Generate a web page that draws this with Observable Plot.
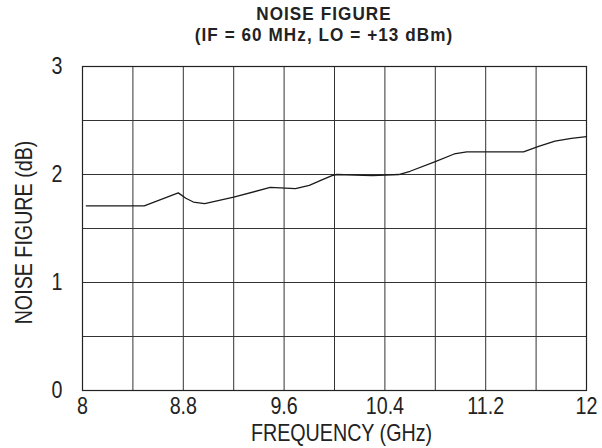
<!DOCTYPE html>
<html>
<head>
<meta charset="utf-8">
<script src="https://cdn.jsdelivr.net/npm/d3@7"></script>
<script src="https://cdn.jsdelivr.net/npm/@observablehq/plot@0.6"></script>
<style>
  html, body { margin: 0; padding: 0; background: #fff; }
  #wrap { width: 602px; height: 448px; overflow: hidden; background: #fff; position: relative; }
  #title {
    box-sizing: border-box; width: 602px; height: 48px;
    padding-top: 3px;
    text-align: center;
    font-family: "Liberation Sans", Arial, sans-serif;
    font-weight: bold; font-size: 19px; line-height: 21px; letter-spacing: 1.2px;
    color: #222;
    transform: translateX(23px) scaleX(0.9);
    transform-origin: 301px 0;
  }
  svg { display: block; }
</style>
</head>
<body>
<div id="wrap">
  <div id="title">NOISE FIGURE<br>(IF = 60 MHz, LO = +13 dBm)</div>
  <div id="chart"></div>
</div>
<script>
// Data
const freqGHz = [8.03, 8.49, 8.76, 8.82, 8.88, 8.97, 9.2, 9.49, 9.69, 9.8, 9.9, 9.98, 10.02, 10.3, 10.51, 10.6, 10.8, 10.95, 11.05, 11.5, 11.62, 11.75, 11.88, 12.0];
const noiseDb = [1.71, 1.71, 1.83, 1.78, 1.745, 1.73, 1.79, 1.88, 1.87, 1.90, 1.95, 1.99, 2.00, 1.99, 2.00, 2.03, 2.12, 2.19, 2.21, 2.21, 2.26, 2.31, 2.335, 2.35];
const xTickValues = [8, 8.8, 9.6, 10.4, 11.2, 12];
const yTickValues = [0, 1, 2, 3];
const xGridValues = [8.4, 8.8, 9.2, 9.6, 10.0, 10.4, 10.8, 11.2, 11.6];
const yGridValues = [0.5, 1, 1.5, 2, 2.5];
const xLabel = "FREQUENCY (GHz)";
const yLabel = "NOISE FIGURE (dB)";

const data = freqGHz.map((f, i) => ({f, nf: noiseDb[i]}));
const font = '"Liberation Sans", Arial, sans-serif';

const chart = Plot.plot({
  width: 602,
  height: 400,
  marginTop: 18,
  marginBottom: 58,
  marginLeft: 82,
  marginRight: 16,
  style: {fontFamily: font, fontSize: "24px", color: "#222", background: "#fff", overflow: "visible"},
  x: {domain: [8, 12]},
  y: {domain: [0, 3]},
  marks: [
    Plot.gridX(xGridValues, {stroke: "#333", strokeOpacity: 1, strokeWidth: 1}),
    Plot.gridY(yGridValues, {stroke: "#333", strokeOpacity: 1, strokeWidth: 1}),
    Plot.frame({stroke: "#222", strokeWidth: 1.2}),
    Plot.axisX(xTickValues, {tickSize: 0, tickPadding: 6, tickFormat: d => String(d), label: null, fontSize: 24}),
    Plot.axisY(yTickValues, {tickSize: 0, tickPadding: 20, tickFormat: d => String(d), label: null, fontSize: 24}),
    Plot.text([xLabel], {frameAnchor: "bottom", textAnchor: "middle", lineAnchor: "middle", text: d => d, dx: 7, dy: 43, fontSize: 24, fill: "#222"}),
    Plot.text([yLabel], {frameAnchor: "left", textAnchor: "middle", lineAnchor: "middle", text: d => d, rotate: -90, dx: -58, dy: 4, fontSize: 24, fill: "#222"}),
    Plot.line(data, {x: "f", y: "nf", stroke: "#1a1a1a", strokeWidth: 1.3})
  ]
});
document.getElementById("chart").appendChild(chart);

// Emulate the condensed typeface of the original by narrowing every text horizontally
chart.querySelectorAll("text").forEach(t => {
  const len = t.getComputedTextLength();
  if (len > 0) {
    t.setAttribute("textLength", (len * 0.82).toFixed(2));
    t.setAttribute("lengthAdjust", "spacingAndGlyphs");
  }
});
</script>
</body>
</html>
